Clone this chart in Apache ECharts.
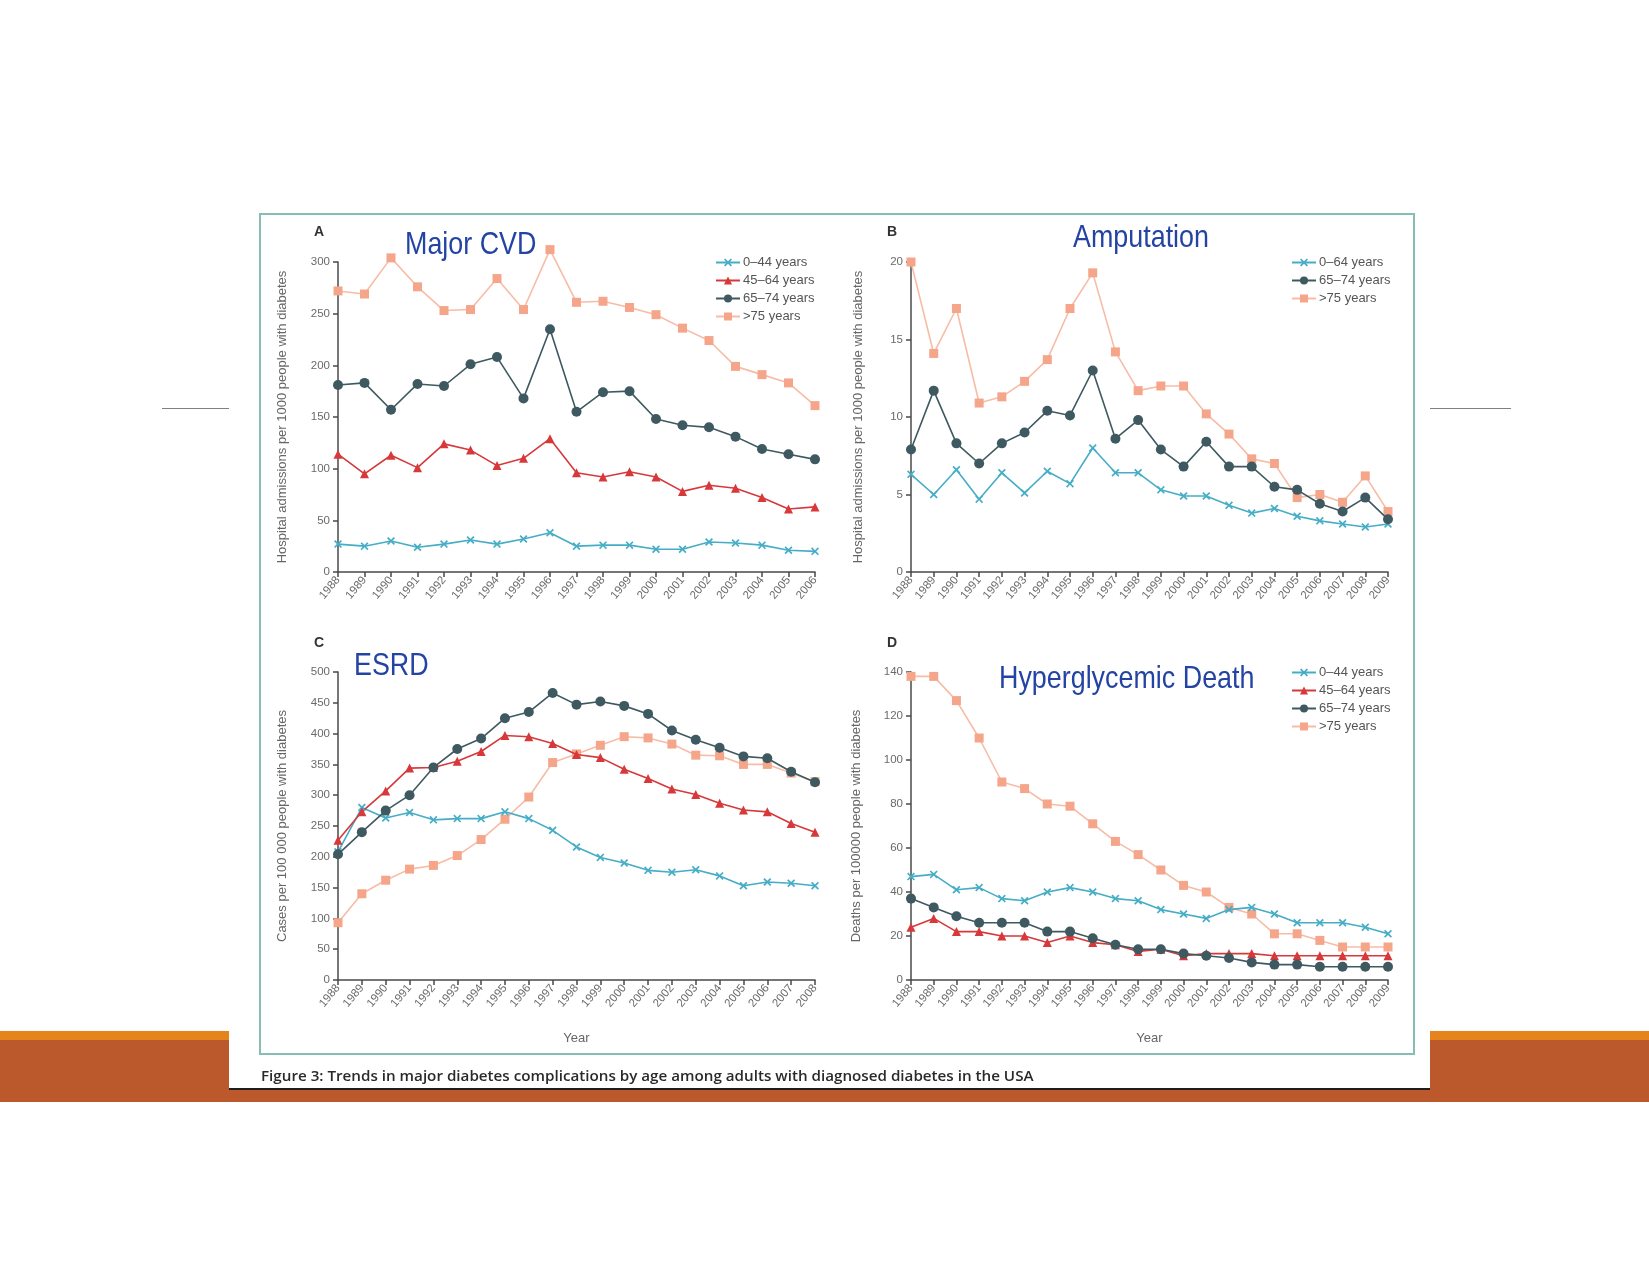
<!DOCTYPE html>
<html>
<head>
<meta charset="utf-8">
<script src="https://cdn.jsdelivr.net/npm/echarts@6/dist/echarts.min.js"></script>
<style>
html,body{margin:0;padding:0;background:#fff;}
#c{width:1649px;height:1274px;}
</style>
</head>
<body>
<div id="c"></div>
<script>
// ---------- categories ----------
const yearsA = ['1988','1989','1990','1991','1992','1993','1994','1995','1996','1997','1998','1999','2000','2001','2002','2003','2004','2005','2006'];
const yearsB = ['1988','1989','1990','1991','1992','1993','1994','1995','1996','1997','1998','1999','2000','2001','2002','2003','2004','2005','2006','2007','2008','2009'];
const yearsC = ['1988','1989','1990','1991','1992','1993','1994','1995','1996','1997','1998','1999','2000','2001','2002','2003','2004','2005','2006','2007','2008'];
const yearsD = ['1988','1989','1990','1991','1992','1993','1994','1995','1996','1997','1998','1999','2000','2001','2002','2003','2004','2005','2006','2007','2008','2009'];

// ---------- A: Major CVD (hospital admissions per 1000) ----------
const cvd_0_44  = [27,25,30,24,27,31,27,32,38,25,26,26,22,22,29,28,26,21,20];
const cvd_45_64 = [114,95,113,101,124,118,103,110,129,96,92,97,92,78,84,81,72,61,63];
const cvd_65_74 = [181,183,157,182,180,201,208,168,235,155,174,175,148,142,140,131,119,114,109];
const cvd_75    = [272,269,304,276,253,254,284,254,312,261,262,256,249,236,224,199,191,183,161];

// ---------- B: Amputation (hospital admissions per 1000) ----------
const amp_0_64  = [6.3,5.0,6.6,4.7,6.4,5.1,6.5,5.7,8.0,6.4,6.4,5.3,4.9,4.9,4.3,3.8,4.1,3.6,3.3,3.1,2.9,3.1];
const amp_65_74 = [7.9,11.7,8.3,7.0,8.3,9.0,10.4,10.1,13.0,8.6,9.8,7.9,6.8,8.4,6.8,6.8,5.5,5.3,4.4,3.9,4.8,3.4];
const amp_75    = [20.0,14.1,17.0,10.9,11.3,12.3,13.7,17.0,19.3,14.2,11.7,12.0,12.0,10.2,8.9,7.3,7.0,4.8,5.0,4.5,6.2,3.9];

// ---------- C: ESRD (cases per 100 000) ----------
const esrd_0_44  = [208,280,263,272,260,262,262,273,262,243,216,199,190,178,175,179,169,153,159,157,153];
const esrd_45_64 = [227,273,307,344,345,355,371,397,395,384,366,361,342,327,310,301,287,276,273,254,240];
const esrd_65_74 = [204,240,275,300,345,375,392,425,435,466,447,452,445,432,405,390,377,363,360,338,321];
const esrd_75    = [93,140,162,180,186,202,228,261,297,353,367,381,395,393,383,365,364,350,350,336,322];

// ---------- D: Hyperglycemic death (deaths per 100 000) ----------
const hyp_0_44  = [47,48,41,42,37,36,40,42,40,37,36,32,30,28,32,33,30,26,26,26,24,21];
const hyp_45_64 = [24,28,22,22,20,20,17,20,17,16,13,14,11,12,12,12,11,11,11,11,11,11];
const hyp_65_74 = [37,33,29,26,26,26,22,22,19,16,14,14,12,11,10,8,7,7,6,6,6,6];
const hyp_75    = [138,138,127,110,90,87,80,79,71,63,57,50,43,40,33,30,21,21,18,15,15,15];

// ---------- labels ----------
const panelTitles = ['Major CVD','Amputation','ESRD','Hyperglycemic Death'];
const panelLetters = ['A','B','C','D'];
const yNames = [
  'Hospital admissions per 1000 people with diabetes',
  'Hospital admissions per 1000 people with diabetes',
  'Cases per 100 000 people with diabetes',
  'Deaths per 100000 people with diabetes'
];
const legendA = ['0–44 years','45–64 years','65–74 years','>75 years'];
const legendB = ['0–64 years','65–74 years','>75 years'];
const legendD = ['0–44 years','45–64 years','65–74 years','>75 years'];
const caption = 'Figure 3: Trends in major diabetes complications by age among adults with diagnosed diabetes in the USA';

// ---------- styles ----------
const SANS = "'Liberation Sans',Arial,sans-serif";
const C_TEAL = '#45adc6', C_RED = '#d7383a', C_DARK = '#3e5960', C_PEACH = '#f5a68a', C_PEACH_LINE = '#f7bca5';
const X_SYMBOL = 'path://M0,1.5 L1.5,0 L5,3.5 L8.5,0 L10,1.5 L6.5,5 L10,8.5 L8.5,10 L5,6.5 L1.5,10 L0,8.5 L3.5,5 Z';

const styleOf = {
  teal:  {color: C_TEAL, lineColor: C_TEAL, symbol: X_SYMBOL, size: 8},
  red:   {color: C_RED, lineColor: C_RED, symbol: 'triangle', size: 9},
  dark:  {color: C_DARK, lineColor: C_DARK, symbol: 'circle', size: 10},
  peach: {color: C_PEACH, lineColor: C_PEACH_LINE, symbol: 'rect', size: 9}
};

function mkSeries(name, data, idx, st, z) {
  const s = styleOf[st];
  return {
    type: 'line', name: name, data: data,
    xAxisIndex: idx, yAxisIndex: idx,
    symbol: s.symbol, symbolSize: s.size, showSymbol: true,
    itemStyle: {color: s.color},
    lineStyle: {color: s.lineColor, width: 1.6},
    clip: false,
    z: z, animation: false
  };
}

const grids = [
  {left: 338, top: 262, width: 477, height: 310},
  {left: 911, top: 262, width: 477, height: 310},
  {left: 338, top: 672, width: 477, height: 308},
  {left: 911, top: 672, width: 477, height: 308}
];
const cats = [yearsA, yearsB, yearsC, yearsD];
const yMax = [300, 20, 500, 140];
const yInt = [50, 5, 50, 20];
const yGap = [49, 46, 49, 48];

const axisLineStyle = {color: '#4a4a4a', width: 1.5};

const xAxes = cats.map((c, i) => ({
  type: 'category', gridIndex: i, data: c, boundaryGap: false,
  axisLine: {lineStyle: axisLineStyle},
  axisTick: {show: true, length: 5, lineStyle: axisLineStyle, interval: 0},
  axisLabel: {interval: 0, rotate: 50, fontSize: 11.5, color: '#6a6a6a', fontFamily: SANS, margin: 6},
  name: (i >= 2 ? 'Year' : ''), nameLocation: 'middle', nameGap: 52,
  nameTextStyle: {fontSize: 13, color: '#666', fontFamily: SANS}
}));

const yAxes = cats.map((c, i) => ({
  type: 'value', gridIndex: i, min: 0, max: yMax[i], interval: yInt[i],
  axisLine: {show: true, lineStyle: axisLineStyle},
  axisTick: {show: true, length: 5, lineStyle: axisLineStyle},
  splitLine: {show: false},
  axisLabel: {fontSize: 11.5, color: '#6a6a6a', fontFamily: SANS, margin: 8},
  name: yNames[i], nameLocation: 'middle', nameGap: yGap[i], nameRotate: 90,
  nameTextStyle: {fontSize: 13, color: '#666', fontFamily: SANS}
}));

const series = [
  mkSeries(legendA[3], cvd_75, 0, 'peach', 2),
  mkSeries(legendA[0], cvd_0_44, 0, 'teal', 3),
  mkSeries(legendA[1], cvd_45_64, 0, 'red', 3),
  mkSeries(legendA[2], cvd_65_74, 0, 'dark', 3),

  mkSeries(legendB[2], amp_75, 1, 'peach', 2),
  mkSeries(legendB[0], amp_0_64, 1, 'teal', 3),
  mkSeries(legendB[1], amp_65_74, 1, 'dark', 3),

  mkSeries('>75 years', esrd_75, 2, 'peach', 2),
  mkSeries('0–44 years', esrd_0_44, 2, 'teal', 3),
  mkSeries('45–64 years', esrd_45_64, 2, 'red', 3),
  mkSeries('65–74 years', esrd_65_74, 2, 'dark', 4),

  mkSeries(legendD[3], hyp_75, 3, 'peach', 2),
  mkSeries(legendD[0], hyp_0_44, 3, 'teal', 3),
  mkSeries(legendD[1], hyp_45_64, 3, 'red', 3),
  mkSeries(legendD[2], hyp_65_74, 3, 'dark', 4)
];

function mkLegend(data, left, top) {
  return {
    data: data, orient: 'vertical', left: left, top: top,
    itemWidth: 24, itemHeight: 10, itemGap: 5,
    textStyle: {fontSize: 13, color: '#555', padding: [0,0,0,-2]},
    selectedMode: false
  };
}

const titlePos = [[405, 245], [1073, 238], [354, 666], [999, 679]];
const letterPos = [[319, 232], [892, 232], [319, 643], [892, 643]];

const graphics = [
  // orange band
  {type: 'rect', shape: {x: 0, y: 1031, width: 1649, height: 10}, style: {fill: '#e5831c'}, z: -20, silent: true},
  {type: 'rect', shape: {x: 0, y: 1040, width: 1649, height: 62}, style: {fill: '#bb592c'}, z: -20, silent: true},
  // white figure sheet
  {type: 'rect', shape: {x: 229, y: 200, width: 1201, height: 888}, style: {fill: '#ffffff'}, z: -15, silent: true},
  {type: 'line', shape: {x1: 229, y1: 1089, x2: 1430, y2: 1089}, style: {stroke: '#1e1e1e', lineWidth: 2}, z: -14, silent: true},
  // grey slide lines
  {type: 'line', shape: {x1: 162, y1: 408.5, x2: 229, y2: 408.5}, style: {stroke: '#808080', lineWidth: 1.2}, z: -14, silent: true},
  {type: 'line', shape: {x1: 1430, y1: 408.5, x2: 1511, y2: 408.5}, style: {stroke: '#808080', lineWidth: 1.2}, z: -14, silent: true},
  // teal border of figure
  {type: 'rect', shape: {x: 260, y: 214, width: 1154, height: 840}, style: {fill: 'none', stroke: '#86bdb5', lineWidth: 2}, z: -10, silent: true},
  // caption
  {type: 'text', x: 261, y: 1077, style: {text: caption, fontSize: 15.2, fontWeight: 600, fill: '#2a2a2a', fontFamily: "'Open Sans',sans-serif", verticalAlign: 'middle'}, silent: true}
];
panelTitles.forEach((t, i) => {
  graphics.push({type: 'text', x: titlePos[i][0], y: titlePos[i][1], scaleX: 0.84,
    style: {text: t, fontSize: 32, fill: '#2444a4', fontFamily: SANS, verticalAlign: 'middle'}, z: 10, silent: true});
});
panelLetters.forEach((t, i) => {
  graphics.push({type: 'text', x: letterPos[i][0], y: letterPos[i][1],
    style: {text: t, fontSize: 14, fontWeight: 'bold', fill: '#333', fontFamily: SANS, align: 'center', verticalAlign: 'middle'}, z: 10, silent: true});
});

const chart = echarts.init(document.getElementById('c'), null, {renderer: 'canvas'});
chart.setOption({
  backgroundColor: '#ffffff',
  animation: false,
  grid: grids,
  xAxis: xAxes,
  yAxis: yAxes,
  legend: [mkLegend(legendA, 710, 251), mkLegend(legendB, 1286, 251), mkLegend(legendD, 1286, 661)],
  series: series,
  graphic: graphics
});
</script>
</body>
</html>
